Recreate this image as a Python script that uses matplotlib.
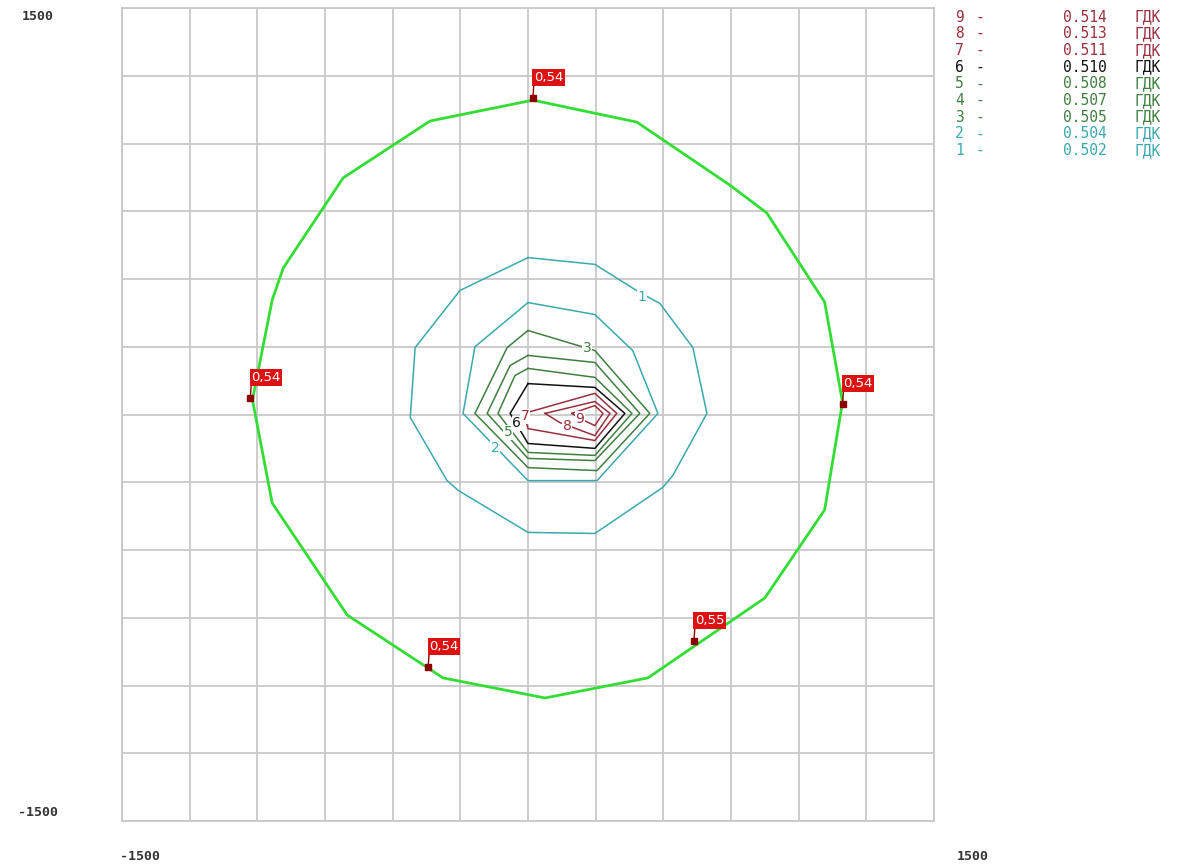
import numpy as np
import matplotlib.pyplot as plt

# [Data]________________________________________________________________________

# outer boundary (green)
ring_x = [18, 402, 745, 882, 1096, 1162, 1096, 875, 443, 63, -314, -668, -945, -1018, -945, -904, -683, -362]
ring_y = [1160, 1079, 847, 744, 415, 46, -352, -677, -972, -1046, -972, -740, -327, 54, 423, 541, 873, 1083]

# points with values
mark_x = [18, -1026, 1162, -369, 613]
mark_y = [1168, 61, 39, -932, -836]
mark_val = ["0,54", "0,54", "0,54", "0,54", "0,55"]

# isolines 1..9
levels = [0.502, 0.504, 0.505, 0.507, 0.508, 0.510, 0.511, 0.513, 0.514]
iso_x = [
    [0, 247, 413, 487, 609, 661, 535, 498, 247, 0, -258, -299, -435, -417, -251],
    [0, 247, 387, 480, 255, 0, -240, -196],
    [0, 247, 450, 255, 0, -196, -77],
    [0, 247, 413, 247, 0, -151, -66],
    [0, 247, 384, 247, 0, -111, -48],
    [0, 247, 358, 247, 0, -66],
    [-15, 247, 328, 247, 0],
    [63, 247, 303, 247, 118],
    [162, 247, 277, 247, 192],
]
iso_y = [
    [579, 554, 450, 410, 247, 4, -225, -269, -439, -435, -280, -244, -11, 247, 458],
    [413, 369, 236, 4, -244, -244, 4, 250],
    [310, 236, 4, -207, -196, 4, 247],
    [218, 192, 4, -170, -162, 4, 181],
    [170, 137, 4, -151, -140, 4, 144],
    [114, 100, 4, -125, -107, 4],
    [4, 78, 4, -96, -52],
    [4, 48, 4, -78, -30],
    [4, 33, 4, -41, -15],
]
iso_col = ["#3aa9ad", "#3aa9ad", "#3f7f3f", "#3f7f3f", "#3f7f3f", "#111111", "#9a2f3e", "#9a2f3e", "#9a2f3e"]

# labels on isolines
lab_n = ["1", "2", "3", "5", "6", "7", "8", "9"]
lab_x = [421, -122, 218, -74, -41, -11, 144, 192]
lab_y = [432, -122, 247, -66, -33, -7, -41, -15]

# [Plot]________________________________________________________________________

fig = plt.figure(figsize=(11.79, 8.66), dpi=100)
ax = fig.add_axes([122 / 1179, 45 / 866, 812 / 1179, 813 / 866])
ax.set_xlim(-1500, 1500)
ax.set_ylim(-1500, 1500)
ax.set_xticks(np.arange(-1500, 1501, 250))
ax.set_yticks(np.arange(-1500, 1501, 250))
ax.tick_params(length=0, labelbottom=False, labelleft=False)
ax.grid(color="#c8c8c8", linewidth=1.3)
for s in ax.spines.values():
    s.set_color("#c8c8c8")
    s.set_linewidth(1.3)

for i in range(len(levels)):
    ax.plot(iso_x[i] + iso_x[i][:1], iso_y[i] + iso_y[i][:1], color=iso_col[i], linewidth=1.1)

for n, x, y in zip(lab_n, lab_x, lab_y):
    c = iso_col[int(n) - 1]
    ax.text(x, y, n, color=c, fontsize=10, ha="center", va="center",
            bbox=dict(boxstyle="square,pad=0.05", fc="white", ec="none"))

ax.plot(ring_x + ring_x[:1], ring_y + ring_y[:1], color="#33dd33", linewidth=2.0)

for x, y, v in zip(mark_x, mark_y, mark_val):
    ax.plot(x, y, "s", color="#8b0000", markersize=4)
    ax.annotate(v, (x, y), xytext=(1, 14), textcoords="offset pixels", ha="left", va="bottom",
                color="white", fontsize=9.5,
                bbox=dict(boxstyle="square,pad=0.12", fc="#dd1111", ec="none"),
                arrowprops=dict(arrowstyle="-", color="#8b0000", shrinkA=0, shrinkB=0, lw=1,
                                relpos=(0, 0)))

# legend on the right
for i in range(len(levels) - 1, -1, -1):
    row = len(levels) - 1 - i
    yy = 1 - (17 + row * 16.7) / 866
    kw = dict(color=iso_col[i], fontsize=10.5, family="DejaVu Sans Mono", va="center")
    fig.text(955 / 1179, yy, "%d" % (i + 1), **kw)
    fig.text(975 / 1179, yy, "-", **kw)
    fig.text(1063 / 1179, yy, "%.3f" % levels[i], **kw)
    fig.text(1134 / 1179, yy, "ГДК", **kw)

# corner values
ck = dict(fontsize=9.5, family="DejaVu Sans Mono", fontweight="bold", color="#333333",
          ha="center", va="center")
fig.text(38 / 1179, 1 - 17 / 866, "1500", **ck)
fig.text(38 / 1179, 1 - 812 / 866, "-1500", **ck)
fig.text(140 / 1179, 1 - 857 / 866, "-1500", **ck)
fig.text(973 / 1179, 1 - 857 / 866, "1500", **ck)

plt.savefig("out.png", dpi=100)
